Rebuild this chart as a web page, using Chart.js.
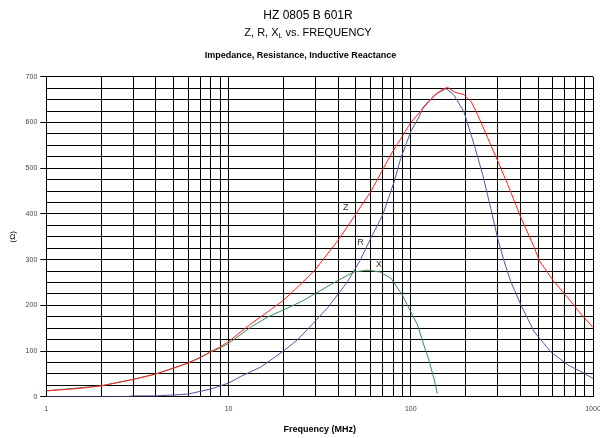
<!DOCTYPE html>
<html lang="en">
<head>
    <meta charset="UTF-8">
    <title>HZ 0805 B 601R</title>
    <script src="https://cdn.jsdelivr.net/npm/chart.js"></script>
    <style>
        body { margin: 0; background: #fff; }
        .wrap { position: relative; width: 600px; height: 438px; }
        .head {
            position: absolute; left: 0; width: 616px; text-align: center;
            font-family: 'Liberation Sans', Arial, sans-serif; color: #000;
        }
        .line1 { top: 8px; font-size: 12px; line-height: 14px; }
        .line2 { top: 26px; font-size: 11px; line-height: 13px; }
        .line2 sub { font-size: 7px; vertical-align: -2px; line-height: 0; }
        canvas { position: absolute; left: 0; top: 0; }
    </style>
</head>
<body>
<div class="wrap">
    <canvas id="zrxChart" width="600" height="438"></canvas>
    <div class="head line1">HZ 0805 B 601R</div>
    <div class="head line2">Z, R, X<sub>L</sub> vs. FREQUENCY</div>
</div>
<script>
    // values (MHz / Ohm)
    var zFreq = [1, 1.5, 2, 3, 4, 5, 6, 7, 8, 9, 10, 13.2, 16.3, 20, 25, 30, 33, 40, 45, 50, 55, 60, 68, 78, 88, 100, 114, 134, 150, 159, 175, 196, 215, 232, 264, 300, 340, 402, 476, 507, 605, 726, 859, 1000];
    var zOhm  = [13, 18, 24, 38, 50, 63, 74, 86, 99, 109, 121, 159, 185, 211, 247, 279, 300, 343, 373, 400, 425, 447, 487, 531, 564, 600, 626, 659, 673, 677, 666, 661, 645, 618, 567, 516, 465, 392, 327, 298, 254, 217, 181, 152];

    var rFreq = [1, 2, 2.7, 3, 4, 5, 6, 7, 8, 9, 10, 11.6, 15, 20, 23.8, 30, 35, 40, 45, 50, 53, 60, 70, 81, 88, 100, 111, 117, 130, 140, 156, 172, 196, 223, 248, 275, 300, 326, 354, 402, 476, 588, 726, 859, 1000];
    var rOhm  = [0, 0, 0, 2, 2, 4, 6, 12, 17, 24, 30, 44, 65, 100, 124, 166, 195, 225, 252, 283, 300, 345, 397, 470, 521, 580, 612, 634, 652, 664, 674, 661, 623, 551, 486, 412, 346, 295, 252, 201, 142, 98, 70, 55, 40];

    var xFreq = [1, 2, 3, 4, 5, 6, 7, 8, 9, 10, 13.2, 16.3, 20, 25, 30, 40, 48.7, 58, 68, 78, 90, 100, 109, 118, 125, 134, 140];
    var xOhm  = [13, 24, 38, 50, 63, 74, 86, 98, 107, 117, 152, 174, 190, 208, 226, 255, 273, 277, 273, 259, 222, 186, 157, 113, 84, 40, 7];

    var xGrid   = [1, 2, 3, 4, 5, 6, 7, 8, 9, 10, 20, 30, 40, 50, 60, 70, 80, 90, 100, 200, 300, 400, 500, 600, 700, 800, 900, 1000];
    var xLabels = [1, 10, 100, 1000];

    var curveNames   = ['Z', 'R', 'X'];
    var curveTagFreq = [44, 53, 67];
    var curveTagOhm  = [413, 337, 289];

    function pts(f, v) {
        return f.map(function (x, i) { return { x: x, y: v[i] }; });
    }

    var FONT = "'Liberation Sans', Arial, sans-serif";

    // letters Z, R, X next to the curves
    var curveTags = {
        id: 'curveTags',
        afterDatasetsDraw: function (chart) {
            var c = chart.ctx, xs = chart.scales.x, ys = chart.scales.y;
            c.save();
            c.font = '9px ' + FONT;
            c.fillStyle = '#333';
            c.textAlign = 'center';
            c.textBaseline = 'middle';
            for (var i = 0; i < curveNames.length; i++) {
                c.fillText(curveNames[i], xs.getPixelForValue(curveTagFreq[i]), ys.getPixelForValue(curveTagOhm[i]));
            }
            c.restore();
        }
    };

    new Chart(document.getElementById('zrxChart'), {
        type: 'line',
        data: {
            datasets: [
                { label: 'Z', data: pts(zFreq, zOhm), borderColor: '#ff2020' },
                { label: 'R', data: pts(rFreq, rOhm), borderColor: '#55559f' },
                { label: 'X', data: pts(xFreq, xOhm), borderColor: '#3d8a55' }
            ]
        },
        options: {
            responsive: false,
            animation: false,
            layout: { padding: { top: 46, left: 8, right: 7, bottom: 3 } },
            elements: {
                point: { radius: 0 },
                line: { borderWidth: 1, tension: 0 }
            },
            plugins: {
                legend: { display: false },
                tooltip: { enabled: false },
                title: {
                    display: true,
                    text: 'Impedance, Resistance, Inductive Reactance',
                    color: '#000',
                    font: { family: FONT, size: 9, weight: 'bold' },
                    padding: { top: 4, bottom: 16 }
                }
            },
            scales: {
                x: {
                    type: 'logarithmic',
                    min: 1,
                    max: 1000,
                    afterBuildTicks: function (scale) {
                        scale.ticks = xGrid.map(function (v) { return { value: v }; });
                    },
                    afterFit: function (scale) {
                        scale.paddingLeft = 0;
                        scale.paddingRight = 0;
                    },
                    ticks: {
                        autoSkip: false,
                        maxRotation: 0,
                        padding: 8,
                        color: '#444',
                        font: { family: FONT, size: 7 },
                        callback: function (v) { return xLabels.indexOf(v) >= 0 ? String(v) : ''; }
                    },
                    grid: { color: '#000', lineWidth: 1, drawTicks: false },
                    border: { color: '#000' },
                    title: {
                        display: true,
                        text: 'Frequency (MHz)',
                        color: '#000',
                        font: { family: FONT, size: 9, weight: 'bold' },
                        padding: { top: 3, bottom: 0 }
                    }
                },
                y: {
                    min: 0,
                    max: 700,
                    ticks: {
                        stepSize: 25,
                        maxTicksLimit: 40,
                        padding: 3,
                        color: '#444',
                        font: { family: FONT, size: 7 },
                        callback: function (v) { return v % 100 === 0 ? String(v) : ''; }
                    },
                    grid: {
                        color: '#000',
                        lineWidth: 1,
                        tickLength: 6,
                        tickColor: function (ctx) {
                            return ctx.tick && ctx.tick.value % 100 === 0 ? '#000' : 'rgba(0,0,0,0)';
                        }
                    },
                    border: { color: '#000' },
                    title: {
                        display: true,
                        text: '(Ω)',
                        color: '#000',
                        font: { family: FONT, size: 8 },
                        padding: { top: 0, bottom: 5 }
                    }
                }
            }
        },
        plugins: [curveTags]
    });
</script>
</body>
</html>
